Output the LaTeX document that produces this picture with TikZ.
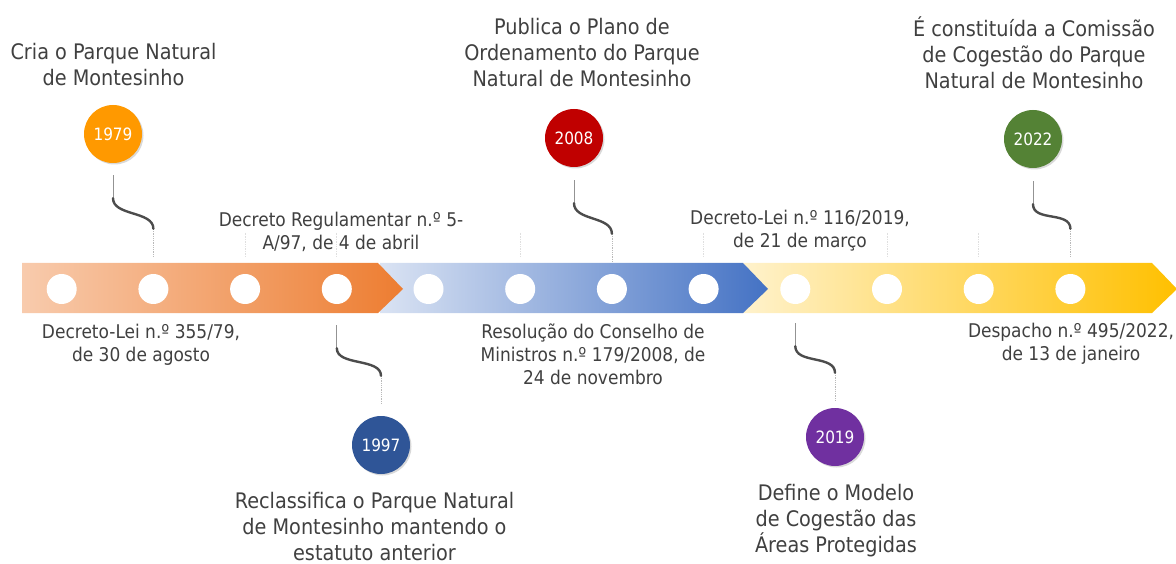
\documentclass[tikz,border=0pt]{standalone}
\usepackage{fontspec}
\setmainfont{DejaVu Sans Condensed}
\usetikzlibrary{calc, shadows}

\definecolor{txtgray}{HTML}{404040}
\definecolor{orgL}{HTML}{F8CBAD}
\definecolor{orgR}{HTML}{ED7D31}
\definecolor{bluL}{HTML}{DAE3F3}
\definecolor{bluR}{HTML}{4472C4}
\definecolor{ylwL}{HTML}{FFF2CC}
\definecolor{ylwR}{HTML}{FFC000}
\definecolor{c1979}{HTML}{FF9900}
\definecolor{c1997}{HTML}{2F5597}
\definecolor{c2008}{HTML}{C00000}
\definecolor{c2019}{HTML}{7030A0}
\definecolor{c2022}{HTML}{548235}

\begin{document}
\begin{tikzpicture}[x = 1pt, y = -1pt,
	dot/.style = {circle, fill = white, minimum size = 30pt, inner sep = 0pt},
	year/.style = {circle, minimum size = 58pt, inner sep = 0pt, text = white, font = \fontsize{17}{19}\selectfont,
		drop shadow = {opacity = 0.3, shadow xshift = 1.5pt, shadow yshift = -1.5pt}},
	title/.style = {align = center, text = txtgray, inner sep = 0pt, font = \fontsize{21.4}{26}\selectfont},
	lab/.style = {align = center, text = txtgray, inner sep = 0pt, font = \fontsize{18.9}{23}\selectfont},
	wire/.style = {gray!85, line width = 0.8pt},
	wirelow/.style = {gray!55, line width = 0.8pt, densely dotted},
	wave/.style = {black!70, line width = 2.4pt, line cap = round},
	ghost/.style = {gray!25, line width = 0.7pt, densely dotted}]%linha do tempo
	\useasboundingbox (0,0) rectangle (1176,564);
	% barra
	\shade[left color = ylwL, right color = ylwR] (743,263) -- (1152,263) -- (1177,289) -- (1152,313) -- (743,313) -- cycle;
	\shade[left color = bluL, right color = bluR] (380,263) -- (743,263) -- (768,289) -- (743,313) -- (380,313) -- cycle;
	\shade[left color = orgL, right color = orgR] (22,263) -- (378,263) -- (403,289) -- (378,313) -- (22,313) -- cycle;
	\foreach \i in {1,...,12}
		\node[dot] (D\i) at ({61.7+91.7*(\i-1)}, 289) {};
	% anos
	\node[year, fill = c1979] (Y1979) at (113,134) {1979};
	\node[year, fill = c2008] (Y2008) at (574,138) {2008};
	\node[year, fill = c2022] (Y2022) at (1033,139) {2022};
	\node[year, fill = c1997] (Y1997) at (381,445) {1997};
	\node[year, fill = c2019] (Y2019) at (835,437) {2019};
	% ligacoes
	\foreach \a/\ga/\b/\gb in {Y1979/12/D2/17, Y2008/13/D7/12, Y2022/13/D12/17, D4/21/Y1997/12, D9/19/Y2019/7}{
		\draw[wire] ($(\a.south)+(0,\ga)$) -- ++(0,23) coordinate (P);
		\draw[wirelow] ($(\b.north)+(0,-\gb)$) -- ++(0,-28) coordinate (Q);
		\draw[wave] (P) .. controls +(0,18) and +(0,-18) .. (Q);
	}
	\foreach \k in {3,4,6,8,10,11}
		\draw[ghost] ($(D\k.north)+(0,-17)$) -- ++(0,-24);
	% textos
	\node[title] (T1979) at (113.5,65) {Cria o Parque Natural\\de Montesinho};
	\node[title] (T2008) at (582,53) {Publica o Plano de\\Ordenamento do Parque\\Natural de Montesinho};
	\node[title] (T2022) at (1034,53) {É constituída a Comissão\\de Cogestão do Parque\\Natural de Montesinho};
	\node[title] (T1997) at (374.5,527) {Reclassifica o Parque Natural\\de Montesinho mantendo o\\estatuto anterior};
	\node[title] (T2019) at (836,521) {Define o Modelo\\de Cogestão das\\Áreas Protegidas};
	\node[lab] (L1997) at (341,232) {Decreto Regulamentar n.º 5-\\A/97, de 4 de abril};
	\node[lab] (L1979) at (141,345) {Decreto-Lei n.º 355/79,\\de 30 de agosto};
	\node[lab] (L2008) at (593,354) {Resolução do Conselho de\\Ministros n.º 179/2008, de\\24 de novembro};
	\node[lab] (L2019) at (800,231) {Decreto-Lei n.º 116/2019,\\de 21 de março};
	\node[lab] (L2022) at (1071,344) {Despacho n.º 495/2022,\\de 13 de janeiro};
\end{tikzpicture}
\end{document}
